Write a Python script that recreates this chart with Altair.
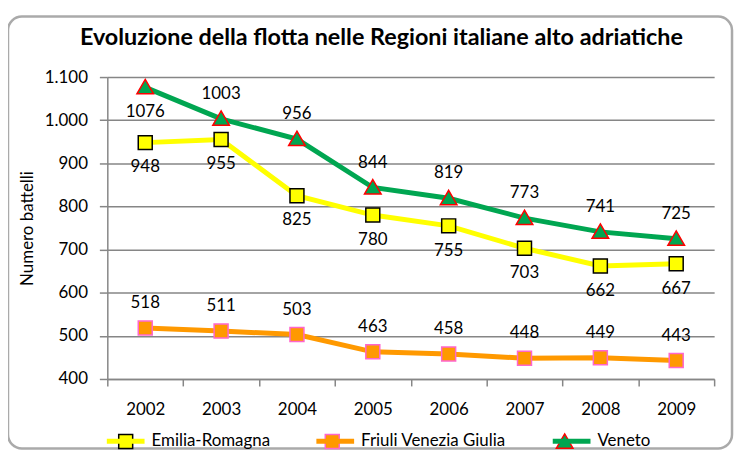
import altair as alt
import pandas as pd

years = ["2002", "2003", "2004", "2005", "2006", "2007", "2008", "2009"]
regions = ["Emilia-Romagna", "Friuli Venezia Giulia", "Veneto"]
emilia = [948, 955, 825, 780, 755, 703, 662, 667]
friuli = [518, 511, 503, 463, 458, 448, 449, 443]
veneto = [1076, 1003, 956, 844, 819, 773, 741, 725]
emilia_pos = ["below"] * 8
friuli_pos = ["above"] * 8
veneto_pos = ["below"] + ["above"] * 7
y_ticks = [400, 500, 600, 700, 800, 900, 1000, 1100]
title_text = "Evoluzione della flotta nelle Regioni italiane alto adriatiche"

line_colors = ["#ffff00", "#ff9900", "#00a651"]
marker_fill = ["#ffff00", "#ff9900", "#00a651"]
marker_stroke = ["#000000", "#ff66cc", "#ff0000"]
# marker paths (with invisible extent points so legend entries line up)
marker_paths = [
    "M-1.09,0M1.09,0M-0.37,-0.37H0.37V0.37H-0.37Z",
    "M-1.09,0M1.09,0M-0.37,-0.37H0.37V0.37H-0.37Z",
    "M-1.09,0M1.09,0M0,-0.42L0.44,0.34H-0.44Z",
]

rows = []
for reg, vals, pos in zip(regions, [emilia, friuli, veneto], [emilia_pos, friuli_pos, veneto_pos]):
    for yr, v, p in zip(years, vals, pos):
        rows.append({"year": yr, "value": v, "region": reg, "region2": reg, "pos": p})
df = pd.DataFrame(rows)

FONT = "Lato"

x = alt.X(
    "year:O",
    scale=alt.Scale(type="band", paddingInner=0, paddingOuter=0),
    bandPosition=0.5,
    axis=alt.Axis(
        title=None, labelAngle=0, tickBand="extent", grid=False,
        domainColor="#868686", domainWidth=1.5, tickColor="#868686", tickWidth=1.5,
        tickSize=7, labelPadding=16, labelFontSize=17, labelColor="#000000", labelFont=FONT,
    ),
)
y = alt.Y(
    "value:Q",
    scale=alt.Scale(domain=[400, 1100], nice=False, zero=False),
    axis=alt.Axis(
        values=y_ticks, title="Numero battelli", titleFontSize=17, titleFontWeight="normal",
        titleFont=FONT, titleColor="#000000", titlePadding=8,
        labelExpr="replace(format(datum.value, ','), ',', '.')",
        grid=True, gridColor="#868686", gridWidth=1.5,
        domainColor="#868686", domainWidth=1.5, tickColor="#868686", tickWidth=1.5,
        tickSize=8, labelPadding=12, labelFontSize=17, labelColor="#000000", labelFont=FONT,
    ),
)

base = alt.Chart(df).encode(x=x, y=y)

leg_line = alt.Legend(
    orient="none", legendX=-3, legendY=345, direction="horizontal", title=None,
    symbolType="stroke", symbolSize=1444, symbolStrokeWidth=5, labelOffset=4.5,
    labelFontSize=17, labelFont=FONT, labelColor="#000000", columnPadding=36, padding=0,
)
leg_mark = alt.Legend(
    orient="none", legendX=-3, legendY=346.5, direction="horizontal", title=None,
    symbolSize=1444, symbolStrokeWidth=1.5, symbolOffset=1.5, labelOffset=7.5,
    labelFontSize=17, labelFont=FONT, labelOpacity=0, columnPadding=36, padding=0,
)

lines = base.mark_line(strokeWidth=5).encode(
    color=alt.Color("region:N", scale=alt.Scale(domain=regions, range=line_colors), legend=leg_line)
)
points = base.mark_point(filled=True, opacity=1, size=1444, strokeWidth=1.5).encode(
    shape=alt.Shape("region2:N", scale=alt.Scale(domain=regions, range=marker_paths), legend=leg_mark),
    fill=alt.Fill("region2:N", scale=alt.Scale(domain=regions, range=marker_fill), legend=leg_mark),
    stroke=alt.Stroke("region2:N", scale=alt.Scale(domain=regions, range=marker_stroke), legend=leg_mark),
)
labels_above = base.mark_text(dy=-25, fontSize=17, font=FONT, color="#000000").encode(
    text="value:Q"
).transform_filter(alt.datum.pos == "above")
labels_below = base.mark_text(dy=25, fontSize=17, font=FONT, color="#000000").encode(
    text="value:Q"
).transform_filter(alt.datum.pos == "below")

one = pd.DataFrame({"t": [title_text]})
frame = alt.Chart(one).mark_rect(
    fill=None, stroke="#aaaaaa", strokeWidth=2.5, cornerRadius=14
).encode(x=alt.value(-100), x2=alt.value(629), y=alt.value(-61), y2=alt.value(374))
title = alt.Chart(one).mark_text(
    fontSize=23.5, font=FONT, fontWeight="bold", color="#000000", baseline="middle", align="center"
).encode(text="t:N", x=alt.value(276), y=alt.value(-39))

chart = alt.layer(frame, title, lines, points, labels_above, labels_below).resolve_scale(
    color="independent"
).properties(
    width=611, height=304,
    autosize=alt.AutoSizeParams(type="none"),
    padding={"left": 100, "top": 68, "right": 20, "bottom": 72},
    background="#ffffff",
).configure_view(strokeWidth=0)

chart.save("out.html", embed_options={"renderer": "svg", "actions": False})
